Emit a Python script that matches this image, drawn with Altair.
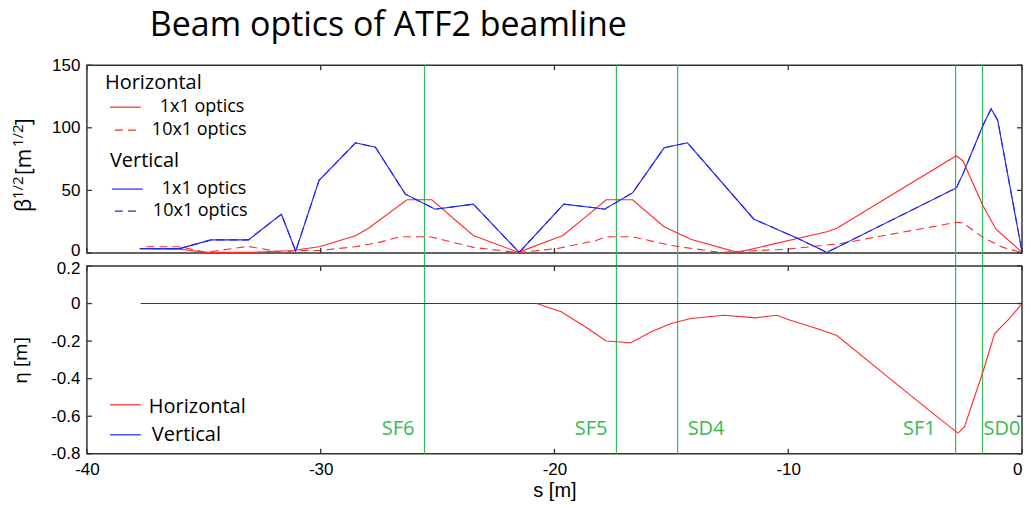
import altair as alt
import pandas as pd

# ---------------- data ----------------
# Vertical beta^1/2, 1x1 optics (also 10x1 optics - identical)
s_v1 = [-37.74, -36.04, -34.69, -33.09, -31.68, -31.07, -30.07, -28.51, -27.66, -26.38,
        -25.1, -23.47, -21.51, -19.6, -18.22, -17.86, -16.66, -15.31, -14.31, -11.47,
        -9.63, -8.35, -2.81, -2.53, -1.67, -1.32, -1.04, 0.0]
b_v1 = [3.5, 3.5, 10.5, 10.5, 31, 1.5, 58, 88, 84.5, 47,
        35, 39, 0.5, 39, 36, 35, 48, 84, 88, 27,
        12, 0.5, 52, 63, 102, 115, 106, 1]

# Horizontal beta^1/2, 1x1 optics
s_h1 = [-37.46, -36.0, -34.9, -33.0, -31.2, -30.07, -28.51, -27.94, -26.31, -25.25,
        -23.47, -21.55, -19.64, -18.22, -17.79, -16.66, -15.31, -14.17, -12.18, -8.35,
        -7.92, -2.81, -2.53, -1.67, -1.11, 0.0]
b_h1 = [3.5, 3, 0.5, 0.5, 2, 5, 13.8, 20, 42.5, 42.5,
        14, 0.5, 14, 35.7, 42.5, 42.5, 21, 11, 0.5, 17,
        19.7, 77.7, 73.7, 37.8, 19, 0.5]

# Horizontal beta^1/2, 10x1 optics
s_h10 = [-37.46, -36.04, -34.9, -33.13, -31.6, -31.07, -30.07, -28.51, -27.5, -26.6,
         -25.32, -23.47, -21.55, -19.85, -18.22, -17.79, -16.66, -15.02, -12.9, -10.05,
         -8.35, -7.92, -2.81, -2.53, -1.67, -0.82, 0.0]
b_h10 = [5, 5, 0.5, 5.3, 0.5, 2, 2, 5, 8.5, 13,
         13, 4.5, 0.3, 3.7, 10, 13, 13, 6, 0.5, 3,
         6.4, 7, 24.5, 24, 12.5, 4.5, 0.3]

# Dispersion
s_eta_h = [-20.77, -19.71, -18.57, -17.79, -16.73, -15.88, -15.02, -14.17, -12.75, -11.4,
           -10.48, -9.91, -8.78, -7.92, -5.65, -3.81, -2.74, -2.46, -1.67, -1.17,
           -0.54, 0.0]
eta_h = [0, -0.044, -0.133, -0.199, -0.209, -0.151, -0.106, -0.08, -0.062, -0.076,
         -0.062, -0.089, -0.133, -0.17, -0.40, -0.585, -0.69, -0.656, -0.363, -0.16,
         -0.08, 0]
s_eta_v = [-37.7, 0.0]
eta_v = [0, 0]

# Sextupole positions
elem_names = ["SF6", "SF5", "SD4", "SF1", "SD0"]
elem_s = [-25.56, -17.35, -14.73, -2.84, -1.69]

x_ticks = [-40, -30, -20, -10, 0]
y_ticks_top = [0, 50, 100, 150]
y_ticks_bot = [0.2, 0, -0.2, -0.4, -0.6, -0.8]

title_text = "Beam optics of ATF2 beamline"
legend_top = ["Horizontal", "1x1 optics", "10x1 optics", "Vertical", "1x1 optics", "10x1 optics"]
legend_bot = ["Horizontal", "Vertical"]

# ---------------- styling ----------------
W, H, GAP = 936, 188, 13
RED = "#ff2a2a"
BLUE = "#2424f0"
GREEN = "#35bb55"
FRAME = "#333333"
LFONT = "Open Sans"
NFONT = "Liberation Sans"

xs = alt.Scale(domain=[-40, 0], nice=False, zero=False)
ys_top = alt.Scale(domain=[0, 150], nice=False, zero=False)
ys_bot = alt.Scale(domain=[-0.8, 0.2], nice=False, zero=False)

one = pd.DataFrame({"a": [0]})

top_yaxis = alt.Axis(values=y_ticks_top, title=None, ticks=False, domain=False, grid=False,
                     labelFont=NFONT, labelFontSize=17, labelColor="black",
                     labelPadding=7, labelExpr="'' + datum.value",
                     labelOffset=alt.condition("datum.value == 0", alt.value(-2), alt.value(0)))
bot_xaxis = alt.Axis(values=x_ticks, title="s [m]", ticks=False, domain=False, grid=False,
                     labelFont=NFONT, labelFontSize=17, labelColor="black", labelPadding=8,
                     labelExpr="'' + datum.value",
                     labelAlign=alt.condition("datum.value == 0", alt.value("right"),
                                              alt.value("center")),
                     titleFont=NFONT, titleFontSize=20,
                     titleFontWeight="normal", titleColor="black", titlePadding=3)
bot_yaxis = alt.Axis(values=y_ticks_bot, title="η [m]", ticks=False, domain=False, grid=False,
                     labelFont=NFONT, labelFontSize=17, labelColor="black", labelPadding=7,
                     labelExpr="'' + datum.value", titleFont=LFONT, titleFontSize=19,
                     titleFontWeight="normal", titleColor="black", titlePadding=20,
                     labelOffset=alt.condition("datum.value > 0.1", alt.value(3),
                                               alt.value(0)))


def X(field, xaxis):
    return alt.X(field, scale=xs, axis=xaxis)


def series(s, v, color, ysc, yaxis, xaxis, dash=None):
    kw = dict(color=color, strokeWidth=1.1)
    if dash:
        kw["strokeDash"] = dash
    return alt.Chart(pd.DataFrame({"s": s, "v": v})).mark_line(**kw).encode(
        x=X("s:Q", xaxis),
        y=alt.Y("v:Q", scale=ysc, axis=yaxis),
    )


def ptext(txt, x, y, size, color="black", font=LFONT, align="left",
          baseline="middle", angle=0):
    return alt.Chart(pd.DataFrame({"t": [txt]})).mark_text(
        align=align, baseline=baseline, fontSize=size, font=font,
        color=color, angle=angle
    ).encode(x=alt.value(x), y=alt.value(y), text="t:N")


def psample(x1, x2, y, color, dash=None):
    kw = dict(color=color, strokeWidth=1.2)
    if dash:
        kw["strokeDash"] = dash
    return alt.Chart(one).mark_rule(**kw).encode(
        x=alt.value(x1), x2=alt.value(x2), y=alt.value(y))


def inward_ticks(ysc, yvals, yaxis, xaxis):
    xt = pd.DataFrame({"s": x_ticks})
    yt = pd.DataFrame({"v": yvals})
    k = dict(color=FRAME, strokeWidth=1.3)
    return [
        alt.Chart(xt).mark_rule(**k).encode(x=X("s:Q", xaxis),
                                            y=alt.value(0), y2=alt.value(5)),
        alt.Chart(xt).mark_rule(**k).encode(x=X("s:Q", xaxis),
                                            y=alt.value(H - 5), y2=alt.value(H)),
        alt.Chart(yt).mark_rule(**k).encode(y=alt.Y("v:Q", scale=ysc, axis=yaxis),
                                            x=alt.value(0), x2=alt.value(5)),
        alt.Chart(yt).mark_rule(**k).encode(y=alt.Y("v:Q", scale=ysc, axis=yaxis),
                                            x=alt.value(W - 5), x2=alt.value(W)),
    ]


elem_df = pd.DataFrame({"s": elem_s, "name": elem_names})

# ---------------- top panel ----------------
TA, TX = top_yaxis, None
top_layers = [
    alt.Chart(elem_df).mark_rule(color=GREEN, strokeWidth=1.2).encode(
        x=X("s:Q", TX), y=alt.value(0), y2=alt.value(H + GAP)),
    series(s_h1, b_h1, RED, ys_top, TA, TX),
    series(s_h10, b_h10, RED, ys_top, TA, TX, dash=[8, 5]),
    series(s_v1, b_v1, BLUE, ys_top, TA, TX),
    series(s_v1, b_v1, BLUE, ys_top, TA, TX, dash=[8, 5]),
] + inward_ticks(ys_top, y_ticks_top, TA, TX) + [
    ptext(title_text, 63, -56, 34, baseline="top"),
    # legend
    ptext(legend_top[0], 18, 18, 20),
    psample(23, 54, 42, RED), ptext(legend_top[1], 73, 42, 18),
    psample(28, 51, 65, RED, [8, 5]), ptext(legend_top[2], 65, 65, 18),
    ptext(legend_top[3], 23, 96, 20),
    psample(25, 56, 124, BLUE), ptext(legend_top[4], 75, 124, 18),
    psample(28, 52, 146, BLUE, [8, 5]), ptext(legend_top[5], 66, 146, 18),
    # y title  beta^1/2 [m^1/2]
    ptext("β", -56, 147, 21, align="left", baseline="alphabetic", angle=270),
    ptext("1/2", -64, 134, 15, align="left", baseline="alphabetic", angle=270),
    ptext("[m", -56, 110, 21, align="left", baseline="alphabetic", angle=270),
    ptext("1/2", -64, 82, 15, align="left", baseline="alphabetic", angle=270),
    ptext("]", -56, 60, 21, align="left", baseline="alphabetic", angle=270),
]
top = alt.layer(*top_layers).properties(width=W, height=H)

# ---------------- bottom panel ----------------
BA, BX = bot_yaxis, bot_xaxis
label_style = {"SF6": ("right", -10), "SF5": ("right", -9), "SD4": ("left", 10),
               "SF1": ("right", -20), "SD0": ("left", 1)}
label_layers = []
for n, s in zip(elem_names, elem_s):
    al, dx = label_style[n]
    label_layers.append(
        alt.Chart(pd.DataFrame({"s": [s], "name": [n]})).mark_text(
            align=al, dx=dx, baseline="middle", fontSize=20, font=LFONT, color=GREEN
        ).encode(x=X("s:Q", BX), y=alt.value(163), text="name:N"))

bot_layers = [
    alt.Chart(elem_df).mark_rule(color=GREEN, strokeWidth=1.2).encode(
        x=X("s:Q", BX), y=alt.value(0), y2=alt.value(H)),
    series(s_eta_v, eta_v, BLUE, ys_bot, BA, BX),
    series(s_eta_h, eta_h, RED, ys_bot, BA, BX),
] + inward_ticks(ys_bot, y_ticks_bot, BA, BX) + label_layers + [
    psample(23, 54, 139, RED), ptext(legend_bot[0], 62, 141, 20),
    psample(23, 54, 169, BLUE), ptext(legend_bot[1], 65, 169, 20),
]
bottom = alt.layer(*bot_layers).properties(width=W, height=H)

chart = alt.vconcat(top, bottom, spacing=GAP).properties(
    bounds="flush",
    padding={"left": 2, "top": 0, "right": 0, "bottom": 0},
    background="white",
).configure_view(stroke=FRAME, strokeWidth=1.5)

chart.save("out.html", embed_options={"renderer": "svg", "actions": False})
